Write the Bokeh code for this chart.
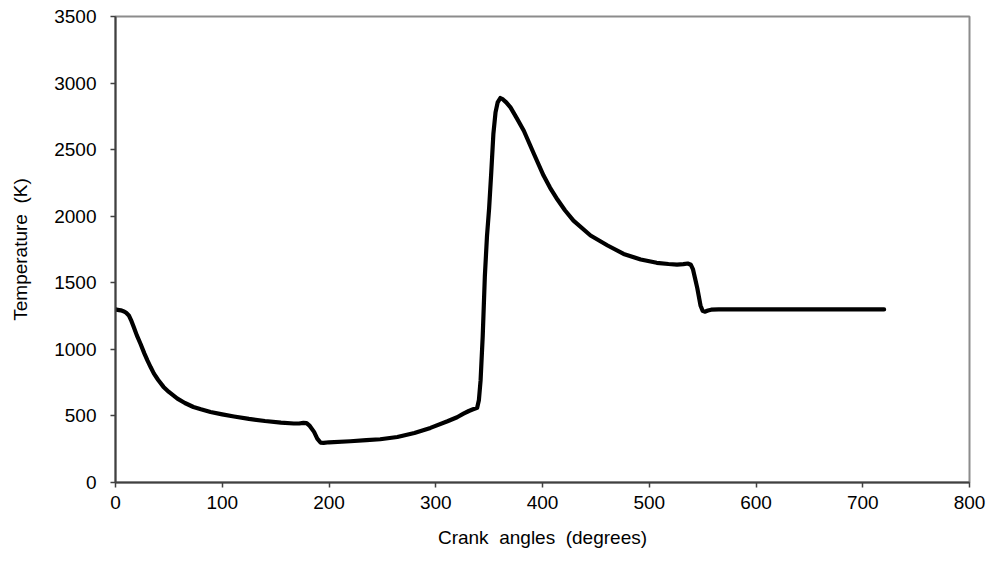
from bokeh.plotting import figure
from bokeh.models import FixedTicker, Range1d
from bokeh.embed import file_html
from bokeh.resources import INLINE

crank_angle = [0, 2, 5, 8, 10, 12.5, 15, 17, 20, 23.5, 27, 30, 33, 36, 40, 45, 50, 58,
               65, 73, 80, 89, 100, 111, 125, 140, 155, 167, 172, 176, 179, 182, 186,
               189, 192, 195, 200, 220, 235, 248, 264, 280, 295, 311, 320, 326, 331,
               335, 338.8, 340.4, 342, 344, 346, 348, 350, 352, 354, 356, 358, 360.5,
               363, 366, 370, 376, 382.5, 392, 401, 407, 414, 421, 429, 445, 461, 476,
               492, 507, 518, 526, 532, 536, 539, 541, 543, 545, 548, 550, 552, 555,
               558, 565, 600, 650, 700, 720]
temperature = [1300, 1297, 1293, 1285, 1275, 1255, 1212, 1170, 1105, 1040, 970, 915,
               865, 818, 770, 718, 680, 630, 597, 567, 550, 530, 512, 496, 478, 462,
               450, 443, 443, 448, 446, 425, 380, 330, 300, 297, 302, 310, 318, 325,
               342, 372, 410, 460, 490, 517, 537, 550, 562, 617, 767, 1100, 1550, 1850,
               2060, 2330, 2620, 2780, 2855, 2888, 2877, 2855, 2817, 2735, 2642, 2467,
               2305, 2215, 2125, 2045, 1967, 1855, 1780, 1717, 1675, 1650, 1641, 1637,
               1640, 1645, 1635, 1600, 1530, 1460, 1330, 1290, 1283, 1292, 1298, 1300,
               1300, 1300, 1300, 1300]

x_ticks = [0, 100, 200, 300, 400, 500, 600, 700, 800]
y_ticks = [0, 500, 1000, 1500, 2000, 2500, 3000, 3500]

FONT = "Liberation Sans"

p = figure(width=994, height=563, output_backend="svg", toolbar_location=None,
           x_range=Range1d(0, 800), y_range=Range1d(0, 3500),
           min_border_left=115, min_border_right=25, min_border_top=16,
           min_border_bottom=81)

p.line(crank_angle, temperature, line_color="black", line_width=4.2,
       line_join="round", line_cap="round")

p.grid.visible = False
p.background_fill_color = "white"
p.border_fill_color = "white"
p.outline_line_color = "#8c8c8c"
p.outline_line_width = 2

for ax in (p.xaxis[0], p.yaxis[0]):
    ax.axis_line_color = "#404040"
    ax.axis_line_width = 2
    ax.major_tick_line_color = "#404040"
    ax.major_tick_line_width = 1.5
    ax.major_tick_in = 0
    ax.major_tick_out = 5
    ax.minor_tick_line_color = None
    ax.major_label_text_font = FONT
    ax.major_label_text_font_size = "19px"
    ax.major_label_text_color = "black"
    ax.axis_label_text_font = FONT
    ax.axis_label_text_font_size = "19px"
    ax.axis_label_text_font_style = "normal"
    ax.axis_label_text_color = "black"

p.xaxis[0].ticker = FixedTicker(ticks=x_ticks)
p.yaxis[0].ticker = FixedTicker(ticks=y_ticks)
p.xaxis[0].axis_label = "Crank \u00a0angles \u00a0(degrees)"
p.yaxis[0].axis_label = "Temperature \u00a0(K)"
p.xaxis[0].major_label_standoff = 8
p.yaxis[0].major_label_standoff = 14
p.xaxis[0].axis_label_standoff = 15
p.yaxis[0].axis_label_standoff = 20

open("out.html", "w").write(file_html(p, INLINE))
